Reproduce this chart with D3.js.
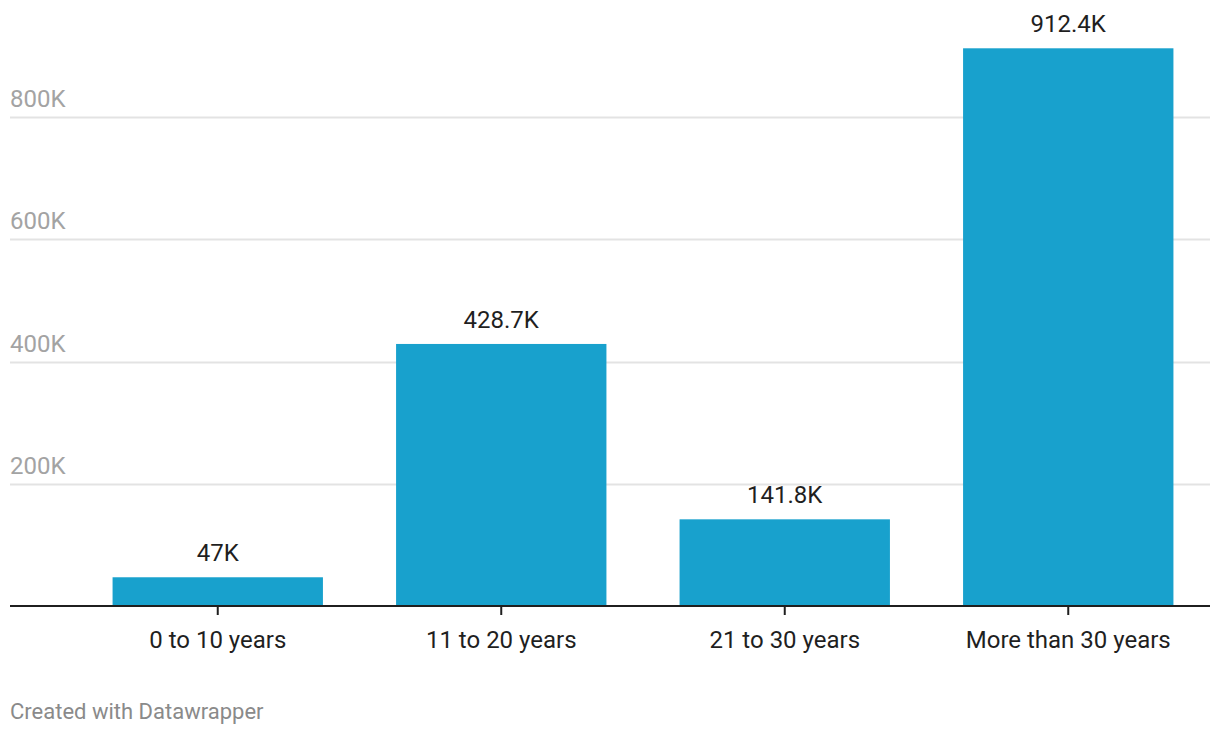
<!DOCTYPE html>
<html>
<head>
<meta charset="utf-8">
<script src="https://cdn.jsdelivr.net/npm/d3@7"></script>
<style>
  html, body { margin: 0; padding: 0; background: #fff; }
  svg { display: block; font-family: Roboto, "Noto Sans", sans-serif; }
</style>
</head>
<body>
<svg id="chart" width="1220" height="736"></svg>
<script>
const categories = ["0 to 10 years", "11 to 20 years", "21 to 30 years", "More than 30 years"];
const values = [47000, 428700, 141800, 912400];
const valueLabels = ["47K", "428.7K", "141.8K", "912.4K"];
const yTicks = [200000, 400000, 600000, 800000];
const yTickLabels = ["200K", "400K", "600K", "800K"];
const footer = "Created with Datawrapper";

const svg = d3.select("#chart");
const left = 10, right = 1210, zeroY = 606, topY = 117;

const y = d3.scaleLinear().domain([0, 800000]).range([zeroY, topY]);
const x = d3.scaleBand().domain(categories).range([76, 1210]).paddingInner(0.258).paddingOuter(0.129);

// gridlines
const grid = svg.append("g");
yTicks.forEach((t, i) => {
  grid.append("line")
    .attr("x1", left).attr("x2", right)
    .attr("y1", Math.round(y(t)) + 0.5).attr("y2", Math.round(y(t)) + 0.5)
    .attr("stroke", "#e3e3e3").attr("stroke-width", 2);
  grid.append("text")
    .attr("x", left).attr("y", y(t) - 10)
    .attr("fill", "#a3a3a3").attr("font-size", 24)
    .text(yTickLabels[i]);
});

// bars
svg.append("g").selectAll("rect").data(values).join("rect")
  .attr("x", (d, i) => x(categories[i]))
  .attr("width", x.bandwidth())
  .attr("y", d => y(d))
  .attr("height", d => zeroY - y(d))
  .attr("fill", "#18a1cd");

// value labels
svg.append("g").selectAll("text").data(values).join("text")
  .attr("x", (d, i) => x(categories[i]) + x.bandwidth() / 2)
  .attr("y", d => y(d) - 16)
  .attr("text-anchor", "middle")
  .attr("fill", "#1f1f1f").attr("font-size", 24)
  .text((d, i) => valueLabels[i]);

// x axis
const xAxis = d3.axisBottom(x).tickSize(9).tickSizeOuter(0).tickPadding(0);
const ax = svg.append("g").attr("transform", `translate(0,${zeroY})`).call(xAxis);
ax.select(".domain").remove();
ax.selectAll(".tick line").attr("stroke", "#1f1f1f").attr("stroke-width", 2);
ax.selectAll(".tick text").attr("fill", "#1f1f1f").attr("font-size", 24)
  .attr("font-family", "Roboto, 'Noto Sans', sans-serif")
  .attr("y", 42).attr("dy", null);
svg.append("line").attr("x1", left).attr("x2", right)
  .attr("y1", zeroY).attr("y2", zeroY)
  .attr("stroke", "#1f1f1f").attr("stroke-width", 2);

// footer
svg.append("text").attr("x", left).attr("y", 719)
  .attr("fill", "#8a8a8a").attr("font-size", 22)
  .text(footer);
</script>
</body>
</html>
